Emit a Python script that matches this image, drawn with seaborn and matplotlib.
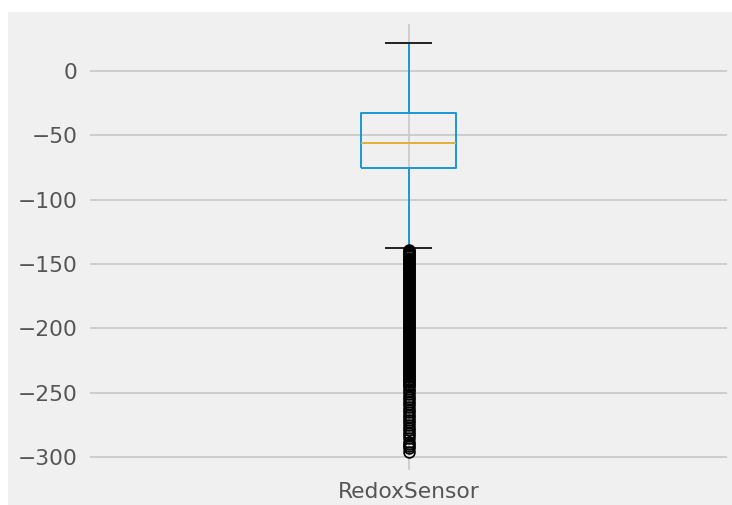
import numpy as np
import pandas as pd
import seaborn as sns
import matplotlib.pyplot as plt
from matplotlib.patches import Rectangle

# box levels: lower whisker, Q1, median, Q3, upper whisker
core_levels = [-137.5, -75.0, -56.0, -33.0, 22.0]
core_counts = [1, 150, 200, 200, 1]

# low outliers: a solid run from about -139 to -245, then thinning out
outliers = [
    -139, -140, -141, -142, -143, -144, -145, -146, -147, -148,
    -149, -150, -151, -152, -153, -154, -155, -156, -157, -158,
    -159, -160, -161, -162, -163, -164, -165, -166, -167, -168,
    -169, -170, -171, -172, -173, -174, -175, -176, -177, -178,
    -179, -180, -181, -182, -183, -184, -185, -186, -187, -188,
    -189, -190, -191, -192, -193, -194, -195, -196, -197, -198,
    -199, -200, -201, -202, -203, -204, -205, -206, -207, -208,
    -209, -210, -211, -212, -213, -214, -215, -216, -217, -218,
    -219, -220, -221, -222, -223, -224, -225, -226, -227, -228,
    -229, -230, -231, -232, -233, -234, -235, -236, -237, -238,
    -239, -240, -241, -242, -243, -244, -245,
    -247, -249, -251, -253, -255, -257, -259, -261, -263, -265,
    -267, -269, -271, -273, -275, -277, -279, -281, -283,
    -285, -288, -290, -291, -293, -296,
]

sensor = "RedoxSensor"

readings = np.concatenate([np.repeat(core_levels, core_counts), outliers])
df = pd.DataFrame({"sensor": sensor, "value": readings})

plt.style.use("fivethirtyeight")
plt.rcParams["font.family"] = ["DejaVu Sans"]

fig = plt.figure(figsize=(7.32, 5.05), dpi=100, facecolor="white")
fig.patches.append(Rectangle((8 / 732, 0), 1, 1 - 12 / 505, transform=fig.transFigure,
                             facecolor="#f0f0f0", edgecolor="none", zorder=-1))
ax = fig.add_axes([90 / 732, 1 - 470 / 505, 637 / 732, 446 / 505])
ax.set_facecolor("#f0f0f0")

blue = "#1a96d6"
lw = 1.4
sns.boxplot(data=df, x="sensor", y="value", width=0.15, fill=False, saturation=1,
            color=blue, linewidth=lw, fliersize=7.8, ax=ax,
            boxprops=dict(color=blue, linewidth=lw),
            whiskerprops=dict(color=blue, linewidth=lw),
            capprops=dict(color="#222222", linewidth=lw),
            medianprops=dict(color="#e5ae38", linewidth=lw),
            flierprops=dict(marker="o", markerfacecolor="none", markeredgecolor="black",
                            markersize=7.8, markeredgewidth=1.2))

ax.set_ylim(-310, 36.5)
ax.set_xlim(-0.5, 0.5)
ax.set_yticks([0, -50, -100, -150, -200, -250, -300])
ax.set_xlabel("")
ax.set_ylabel("")
ax.grid(True, color="#cbcbcb", linewidth=1.3)
ax.set_axisbelow(True)
for s in ax.spines.values():
    s.set_visible(False)
ax.tick_params(length=0, labelsize=15.7, labelcolor="#555555", pad=9)

fig.savefig("out.png", dpi=100, facecolor="white")
